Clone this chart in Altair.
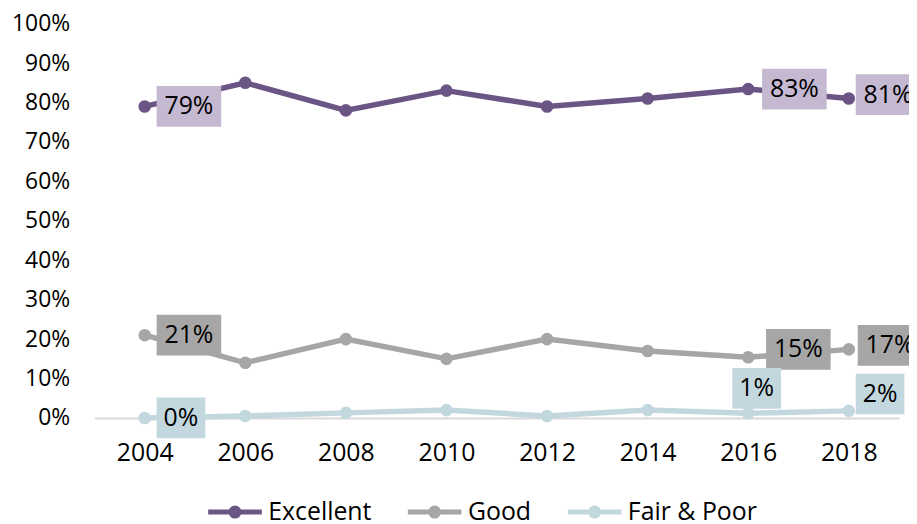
import altair as alt
import pandas as pd

years = [2004, 2006, 2008, 2010, 2012, 2014, 2016, 2018]
series_names = ["Excellent", "Good", "Fair & Poor"]
excellent = [79, 85, 78, 83, 79, 81, 83.4, 81]
good = [21, 14, 20, 15, 20, 17, 15.4, 17.4]
fair_poor = [0, 0.5, 1.3, 2.0, 0.5, 2.0, 1.2, 1.8]
labeled_years = [2004, 2016, 2018]

line_colors = ["#6b5585", "#a6a6a6", "#c3d7df"]
box_colors = ["#c5b8d1", "#a6a6a6", "#c3d7df"]

# label box placement (pixels): left edge offset from point, vertical shift of box center
label_layout = {
    ("Excellent", 2004): (12, 0), ("Excellent", 2016): (14, 0), ("Excellent", 2018): (7, -4),
    ("Good", 2004): (12, 0), ("Good", 2016): (18, -8), ("Good", 2018): (9, -4),
    ("Fair & Poor", 2004): (12, 0), ("Fair & Poor", 2016): (-16, -25), ("Fair & Poor", 2018): (7, -17),
}

rows = []
for name, vals in zip(series_names, [excellent, good, fair_poor]):
    for y, v in zip(years, vals):
        rows.append({"year": y, "series": name, "value": v})
df = pd.DataFrame(rows)

lab = df[df["year"].isin(labeled_years)].copy()
lab["label"] = lab["value"].round().astype(int).astype(str) + "%"
lab["bw"] = lab["label"].str.len() * 16 + 17
lab["bx0"] = [label_layout[(s, y)][0] for s, y in zip(lab["series"], lab["year"])]
lab["bx1"] = lab["bx0"] + lab["bw"]
lab["tx"] = lab["bx0"] + lab["bw"] / 2
lab["dy"] = [label_layout[(s, y)][1] for s, y in zip(lab["series"], lab["year"])]

FONT = "Open Sans"

x_enc = alt.X(
    "year:Q",
    scale=alt.Scale(domain=[2003, 2019], nice=False, zero=False),
    axis=alt.Axis(values=years, format="d", title=None, grid=False, ticks=False,
                  domainColor="#d9d9d9", domainWidth=2, labelFontSize=25,
                  labelPadding=23, labelColor="#000000", labelFont=FONT),
)
y_enc = alt.Y(
    "value:Q",
    scale=alt.Scale(domain=[0, 100], nice=False),
    axis=alt.Axis(values=list(range(0, 101, 10)), labelExpr="datum.value + '%'",
                  title=None, grid=False, ticks=False, domain=False, labelOverlap=False,
                  labelFontSize=23, labelPadding=25, labelColor="#000000", labelFont=FONT),
)

legend_path = ("M-1,0H1"
               "M-0.06,0A0.06,0.06 0 1,1 0.06,0A0.06,0.06 0 1,1 -0.06,0"
               "M-0.15,0A0.15,0.15 0 1,1 0.15,0A0.15,0.15 0 1,1 -0.15,0")

color_enc = alt.Color(
    "series:N",
    scale=alt.Scale(domain=series_names, range=line_colors),
    sort=series_names,
    legend=alt.Legend(title=None, orient="none", direction="horizontal",
                      legendX=112, legendY=462, symbolType=legend_path,
                      symbolSize=2916, symbolStrokeWidth=5, labelFontSize=25,
                      labelFont=FONT, labelColor="#000000", labelOffset=4,
                      columnPadding=26, padding=0),
)

lines = alt.Chart(df).mark_line(strokeWidth=5.5).encode(
    x=x_enc, y=y_enc, color=color_enc, detail="series:N"
)
points = alt.Chart(df).mark_circle(size=160, opacity=1).encode(
    x=x_enc, y=y_enc, color=color_enc,
)
boxes = alt.Chart(lab).mark_rect(
    xOffset=alt.expr("datum.bx0"), x2Offset=alt.expr("datum.bx1"),
    yOffset=alt.expr("datum.dy - 20.5"), y2Offset=alt.expr("datum.dy + 20.5"),
).encode(
    x=x_enc, x2="year", y=y_enc, y2="value",
    fill=alt.Fill("series:N", scale=alt.Scale(domain=series_names, range=box_colors), legend=None),
)
texts = alt.Chart(lab).mark_text(
    fontSize=25, font=FONT, color="#000000", align="center", baseline="middle",
    xOffset=alt.expr("datum.tx"), yOffset=alt.expr("datum.dy"),
).encode(x=x_enc, y=y_enc, text="label:N")

chart = alt.layer(lines, points, boxes, texts).properties(
    width=810, height=397,
    autosize=alt.AutoSizeParams(type="none"),
    padding={"left": 87, "top": 14, "right": 10, "bottom": 105},
).configure(font=FONT).configure_view(strokeWidth=0, stroke="transparent")

chart.save("out.html", embed_options={"renderer": "svg", "actions": False})
